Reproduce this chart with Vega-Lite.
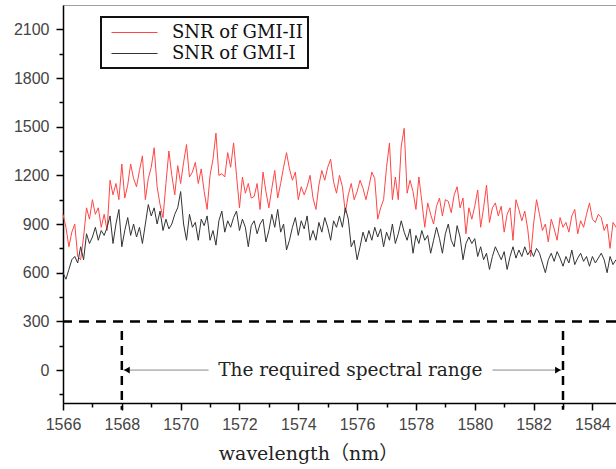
{
"$schema":"https://vega.github.io/schema/vega-lite/v6.json",
"autosize":{"type":"none"},
"padding":{"left":63,"top":5,"right":0,"bottom":66},
"width":570,"height":398,
"background":"white",
"config":{"view":{"stroke":"#a0a0a0","strokeWidth":1}},
"resolve":{"axis":{"x":"independent","y":"independent"}},
"layer":[
{"data":{"values":[
{"x":1566.0,"s":"II","y":960},{"x":1566.1,"s":"II","y":880},{"x":1566.2,"s":"II","y":760},{"x":1566.3,"s":"II","y":850},{"x":1566.4,"s":"II","y":900},{"x":1566.5,"s":"II","y":700},{"x":1566.6,"s":"II","y":680},{"x":1566.7,"s":"II","y":820},{"x":1566.8,"s":"II","y":1000},{"x":1566.9,"s":"II","y":930},
{"x":1567.0,"s":"II","y":1050},{"x":1567.1,"s":"II","y":960},{"x":1567.2,"s":"II","y":1000},{"x":1567.3,"s":"II","y":880},{"x":1567.4,"s":"II","y":960},{"x":1567.5,"s":"II","y":860},{"x":1567.6,"s":"II","y":1170},{"x":1567.7,"s":"II","y":1080},{"x":1567.8,"s":"II","y":1150},{"x":1567.9,"s":"II","y":1050},
{"x":1568.0,"s":"II","y":1270},{"x":1568.1,"s":"II","y":1060},{"x":1568.2,"s":"II","y":1140},{"x":1568.3,"s":"II","y":1270},{"x":1568.4,"s":"II","y":1180},{"x":1568.5,"s":"II","y":1130},{"x":1568.6,"s":"II","y":1230},{"x":1568.7,"s":"II","y":1320},{"x":1568.8,"s":"II","y":1050},{"x":1568.9,"s":"II","y":1180},
{"x":1569.0,"s":"II","y":1250},{"x":1569.1,"s":"II","y":1370},{"x":1569.2,"s":"II","y":1130},{"x":1569.3,"s":"II","y":1020},{"x":1569.4,"s":"II","y":940},{"x":1569.5,"s":"II","y":1150},{"x":1569.6,"s":"II","y":1350},{"x":1569.7,"s":"II","y":1200},{"x":1569.8,"s":"II","y":1080},{"x":1569.9,"s":"II","y":1260},
{"x":1570.0,"s":"II","y":1150},{"x":1570.1,"s":"II","y":1280},{"x":1570.2,"s":"II","y":1390},{"x":1570.3,"s":"II","y":1190},{"x":1570.4,"s":"II","y":1220},{"x":1570.5,"s":"II","y":1280},{"x":1570.6,"s":"II","y":1150},{"x":1570.7,"s":"II","y":1240},{"x":1570.8,"s":"II","y":1100},{"x":1570.9,"s":"II","y":990},
{"x":1571.0,"s":"II","y":1200},{"x":1571.1,"s":"II","y":1300},{"x":1571.2,"s":"II","y":1460},{"x":1571.3,"s":"II","y":1200},{"x":1571.4,"s":"II","y":1210},{"x":1571.5,"s":"II","y":1190},{"x":1571.6,"s":"II","y":1340},{"x":1571.7,"s":"II","y":1250},{"x":1571.8,"s":"II","y":1400},{"x":1571.9,"s":"II","y":1200},
{"x":1572.0,"s":"II","y":1000},{"x":1572.1,"s":"II","y":1190},{"x":1572.2,"s":"II","y":1090},{"x":1572.3,"s":"II","y":1150},{"x":1572.4,"s":"II","y":1060},{"x":1572.5,"s":"II","y":1070},{"x":1572.6,"s":"II","y":1150},{"x":1572.7,"s":"II","y":990},{"x":1572.8,"s":"II","y":1220},{"x":1572.9,"s":"II","y":1100},
{"x":1573.0,"s":"II","y":1000},{"x":1573.1,"s":"II","y":1120},{"x":1573.2,"s":"II","y":1230},{"x":1573.3,"s":"II","y":1060},{"x":1573.4,"s":"II","y":1150},{"x":1573.5,"s":"II","y":1250},{"x":1573.6,"s":"II","y":1340},{"x":1573.7,"s":"II","y":1240},{"x":1573.8,"s":"II","y":1170},{"x":1573.9,"s":"II","y":1220},
{"x":1574.0,"s":"II","y":1050},{"x":1574.1,"s":"II","y":1130},{"x":1574.2,"s":"II","y":1080},{"x":1574.3,"s":"II","y":1130},{"x":1574.4,"s":"II","y":1200},{"x":1574.5,"s":"II","y":1060},{"x":1574.6,"s":"II","y":990},{"x":1574.7,"s":"II","y":1140},{"x":1574.8,"s":"II","y":1230},{"x":1574.9,"s":"II","y":1170},
{"x":1575.0,"s":"II","y":1250},{"x":1575.1,"s":"II","y":1300},{"x":1575.2,"s":"II","y":1160},{"x":1575.3,"s":"II","y":1090},{"x":1575.4,"s":"II","y":1200},{"x":1575.5,"s":"II","y":1130},{"x":1575.6,"s":"II","y":970},{"x":1575.7,"s":"II","y":1080},{"x":1575.8,"s":"II","y":1150},{"x":1575.9,"s":"II","y":1050},
{"x":1576.0,"s":"II","y":1100},{"x":1576.1,"s":"II","y":1170},{"x":1576.2,"s":"II","y":1120},{"x":1576.3,"s":"II","y":1050},{"x":1576.4,"s":"II","y":1130},{"x":1576.5,"s":"II","y":1220},{"x":1576.6,"s":"II","y":1180},{"x":1576.7,"s":"II","y":930},{"x":1576.8,"s":"II","y":1000},{"x":1576.9,"s":"II","y":1050},
{"x":1577.0,"s":"II","y":1250},{"x":1577.1,"s":"II","y":1400},{"x":1577.2,"s":"II","y":1050},{"x":1577.3,"s":"II","y":1190},{"x":1577.4,"s":"II","y":1050},{"x":1577.5,"s":"II","y":1380},{"x":1577.6,"s":"II","y":1490},{"x":1577.7,"s":"II","y":1090},{"x":1577.8,"s":"II","y":1170},{"x":1577.9,"s":"II","y":1100},
{"x":1578.0,"s":"II","y":990},{"x":1578.1,"s":"II","y":1190},{"x":1578.2,"s":"II","y":1040},{"x":1578.3,"s":"II","y":880},{"x":1578.4,"s":"II","y":1030},{"x":1578.5,"s":"II","y":960},{"x":1578.6,"s":"II","y":900},{"x":1578.7,"s":"II","y":1010},{"x":1578.8,"s":"II","y":1060},{"x":1578.9,"s":"II","y":950},
{"x":1579.0,"s":"II","y":1050},{"x":1579.1,"s":"II","y":1040},{"x":1579.2,"s":"II","y":970},{"x":1579.3,"s":"II","y":1080},{"x":1579.4,"s":"II","y":1130},{"x":1579.5,"s":"II","y":1000},{"x":1579.6,"s":"II","y":1060},{"x":1579.7,"s":"II","y":840},{"x":1579.8,"s":"II","y":1000},{"x":1579.9,"s":"II","y":930},
{"x":1580.0,"s":"II","y":1010},{"x":1580.1,"s":"II","y":1110},{"x":1580.2,"s":"II","y":880},{"x":1580.3,"s":"II","y":1000},{"x":1580.4,"s":"II","y":1140},{"x":1580.5,"s":"II","y":910},{"x":1580.6,"s":"II","y":1000},{"x":1580.7,"s":"II","y":1030},{"x":1580.8,"s":"II","y":950},{"x":1580.9,"s":"II","y":1010},
{"x":1581.0,"s":"II","y":850},{"x":1581.1,"s":"II","y":960},{"x":1581.2,"s":"II","y":1000},{"x":1581.3,"s":"II","y":800},{"x":1581.4,"s":"II","y":1050},{"x":1581.5,"s":"II","y":990},{"x":1581.6,"s":"II","y":920},{"x":1581.7,"s":"II","y":980},{"x":1581.8,"s":"II","y":870},{"x":1581.9,"s":"II","y":700},
{"x":1582.0,"s":"II","y":900},{"x":1582.1,"s":"II","y":1050},{"x":1582.2,"s":"II","y":960},{"x":1582.3,"s":"II","y":860},{"x":1582.4,"s":"II","y":900},{"x":1582.5,"s":"II","y":790},{"x":1582.6,"s":"II","y":930},{"x":1582.7,"s":"II","y":870},{"x":1582.8,"s":"II","y":800},{"x":1582.9,"s":"II","y":940},
{"x":1583.0,"s":"II","y":880},{"x":1583.1,"s":"II","y":910},{"x":1583.2,"s":"II","y":850},{"x":1583.3,"s":"II","y":950},{"x":1583.4,"s":"II","y":990},{"x":1583.5,"s":"II","y":840},{"x":1583.6,"s":"II","y":920},{"x":1583.7,"s":"II","y":880},{"x":1583.8,"s":"II","y":960},{"x":1583.9,"s":"II","y":1030},
{"x":1584.0,"s":"II","y":930},{"x":1584.1,"s":"II","y":910},{"x":1584.2,"s":"II","y":960},{"x":1584.3,"s":"II","y":940},{"x":1584.4,"s":"II","y":860},{"x":1584.5,"s":"II","y":900},{"x":1584.6,"s":"II","y":750},{"x":1584.7,"s":"II","y":910},{"x":1584.8,"s":"II","y":880},
{"x":1566.0,"s":"I","y":600},{"x":1566.1,"s":"I","y":560},{"x":1566.2,"s":"I","y":620},{"x":1566.3,"s":"I","y":680},{"x":1566.4,"s":"I","y":700},{"x":1566.5,"s":"I","y":660},{"x":1566.6,"s":"I","y":760},{"x":1566.7,"s":"I","y":680},{"x":1566.8,"s":"I","y":840},{"x":1566.9,"s":"I","y":780},
{"x":1567.0,"s":"I","y":820},{"x":1567.1,"s":"I","y":880},{"x":1567.2,"s":"I","y":800},{"x":1567.3,"s":"I","y":860},{"x":1567.4,"s":"I","y":830},{"x":1567.5,"s":"I","y":880},{"x":1567.6,"s":"I","y":950},{"x":1567.7,"s":"I","y":780},{"x":1567.8,"s":"I","y":900},{"x":1567.9,"s":"I","y":990},
{"x":1568.0,"s":"I","y":760},{"x":1568.1,"s":"I","y":860},{"x":1568.2,"s":"I","y":940},{"x":1568.3,"s":"I","y":830},{"x":1568.4,"s":"I","y":900},{"x":1568.5,"s":"I","y":820},{"x":1568.6,"s":"I","y":880},{"x":1568.7,"s":"I","y":780},{"x":1568.8,"s":"I","y":900},{"x":1568.9,"s":"I","y":1020},
{"x":1569.0,"s":"I","y":950},{"x":1569.1,"s":"I","y":1000},{"x":1569.2,"s":"I","y":900},{"x":1569.3,"s":"I","y":980},{"x":1569.4,"s":"I","y":860},{"x":1569.5,"s":"I","y":930},{"x":1569.6,"s":"I","y":870},{"x":1569.7,"s":"I","y":900},{"x":1569.8,"s":"I","y":960},{"x":1569.9,"s":"I","y":1000},
{"x":1570.0,"s":"I","y":1100},{"x":1570.1,"s":"I","y":900},{"x":1570.2,"s":"I","y":800},{"x":1570.3,"s":"I","y":960},{"x":1570.4,"s":"I","y":880},{"x":1570.5,"s":"I","y":910},{"x":1570.6,"s":"I","y":800},{"x":1570.7,"s":"I","y":930},{"x":1570.8,"s":"I","y":890},{"x":1570.9,"s":"I","y":950},
{"x":1571.0,"s":"I","y":800},{"x":1571.1,"s":"I","y":860},{"x":1571.2,"s":"I","y":770},{"x":1571.3,"s":"I","y":920},{"x":1571.4,"s":"I","y":980},{"x":1571.5,"s":"I","y":850},{"x":1571.6,"s":"I","y":920},{"x":1571.7,"s":"I","y":880},{"x":1571.8,"s":"I","y":940},{"x":1571.9,"s":"I","y":980},
{"x":1572.0,"s":"I","y":860},{"x":1572.1,"s":"I","y":930},{"x":1572.2,"s":"I","y":880},{"x":1572.3,"s":"I","y":760},{"x":1572.4,"s":"I","y":890},{"x":1572.5,"s":"I","y":920},{"x":1572.6,"s":"I","y":840},{"x":1572.7,"s":"I","y":900},{"x":1572.8,"s":"I","y":930},{"x":1572.9,"s":"I","y":790},
{"x":1573.0,"s":"I","y":860},{"x":1573.1,"s":"I","y":960},{"x":1573.2,"s":"I","y":880},{"x":1573.3,"s":"I","y":990},{"x":1573.4,"s":"I","y":850},{"x":1573.5,"s":"I","y":900},{"x":1573.6,"s":"I","y":740},{"x":1573.7,"s":"I","y":800},{"x":1573.8,"s":"I","y":880},{"x":1573.9,"s":"I","y":940},
{"x":1574.0,"s":"I","y":830},{"x":1574.1,"s":"I","y":920},{"x":1574.2,"s":"I","y":870},{"x":1574.3,"s":"I","y":950},{"x":1574.4,"s":"I","y":800},{"x":1574.5,"s":"I","y":860},{"x":1574.6,"s":"I","y":800},{"x":1574.7,"s":"I","y":910},{"x":1574.8,"s":"I","y":850},{"x":1574.9,"s":"I","y":940},
{"x":1575.0,"s":"I","y":880},{"x":1575.1,"s":"I","y":800},{"x":1575.2,"s":"I","y":920},{"x":1575.3,"s":"I","y":880},{"x":1575.4,"s":"I","y":950},{"x":1575.5,"s":"I","y":880},{"x":1575.6,"s":"I","y":1000},{"x":1575.7,"s":"I","y":930},{"x":1575.8,"s":"I","y":760},{"x":1575.9,"s":"I","y":800},
{"x":1576.0,"s":"I","y":680},{"x":1576.1,"s":"I","y":760},{"x":1576.2,"s":"I","y":850},{"x":1576.3,"s":"I","y":790},{"x":1576.4,"s":"I","y":860},{"x":1576.5,"s":"I","y":800},{"x":1576.6,"s":"I","y":880},{"x":1576.7,"s":"I","y":820},{"x":1576.8,"s":"I","y":870},{"x":1576.9,"s":"I","y":760},
{"x":1577.0,"s":"I","y":850},{"x":1577.1,"s":"I","y":800},{"x":1577.2,"s":"I","y":900},{"x":1577.3,"s":"I","y":780},{"x":1577.4,"s":"I","y":840},{"x":1577.5,"s":"I","y":920},{"x":1577.6,"s":"I","y":850},{"x":1577.7,"s":"I","y":800},{"x":1577.8,"s":"I","y":870},{"x":1577.9,"s":"I","y":720},
{"x":1578.0,"s":"I","y":830},{"x":1578.1,"s":"I","y":780},{"x":1578.2,"s":"I","y":860},{"x":1578.3,"s":"I","y":800},{"x":1578.4,"s":"I","y":830},{"x":1578.5,"s":"I","y":720},{"x":1578.6,"s":"I","y":800},{"x":1578.7,"s":"I","y":880},{"x":1578.8,"s":"I","y":810},{"x":1578.9,"s":"I","y":720},
{"x":1579.0,"s":"I","y":840},{"x":1579.1,"s":"I","y":900},{"x":1579.2,"s":"I","y":800},{"x":1579.3,"s":"I","y":760},{"x":1579.4,"s":"I","y":890},{"x":1579.5,"s":"I","y":820},{"x":1579.6,"s":"I","y":680},{"x":1579.7,"s":"I","y":780},{"x":1579.8,"s":"I","y":820},{"x":1579.9,"s":"I","y":780},
{"x":1580.0,"s":"I","y":810},{"x":1580.1,"s":"I","y":700},{"x":1580.2,"s":"I","y":760},{"x":1580.3,"s":"I","y":680},{"x":1580.4,"s":"I","y":720},{"x":1580.5,"s":"I","y":620},{"x":1580.6,"s":"I","y":700},{"x":1580.7,"s":"I","y":760},{"x":1580.8,"s":"I","y":720},{"x":1580.9,"s":"I","y":680},
{"x":1581.0,"s":"I","y":730},{"x":1581.1,"s":"I","y":620},{"x":1581.2,"s":"I","y":700},{"x":1581.3,"s":"I","y":760},{"x":1581.4,"s":"I","y":690},{"x":1581.5,"s":"I","y":740},{"x":1581.6,"s":"I","y":700},{"x":1581.7,"s":"I","y":760},{"x":1581.8,"s":"I","y":710},{"x":1581.9,"s":"I","y":740},
{"x":1582.0,"s":"I","y":700},{"x":1582.1,"s":"I","y":750},{"x":1582.2,"s":"I","y":720},{"x":1582.3,"s":"I","y":660},{"x":1582.4,"s":"I","y":600},{"x":1582.5,"s":"I","y":680},{"x":1582.6,"s":"I","y":720},{"x":1582.7,"s":"I","y":670},{"x":1582.8,"s":"I","y":730},{"x":1582.9,"s":"I","y":690},
{"x":1583.0,"s":"I","y":640},{"x":1583.1,"s":"I","y":700},{"x":1583.2,"s":"I","y":660},{"x":1583.3,"s":"I","y":740},{"x":1583.4,"s":"I","y":650},{"x":1583.5,"s":"I","y":690},{"x":1583.6,"s":"I","y":720},{"x":1583.7,"s":"I","y":670},{"x":1583.8,"s":"I","y":700},{"x":1583.9,"s":"I","y":640},
{"x":1584.0,"s":"I","y":700},{"x":1584.1,"s":"I","y":660},{"x":1584.2,"s":"I","y":690},{"x":1584.3,"s":"I","y":720},{"x":1584.4,"s":"I","y":680},{"x":1584.5,"s":"I","y":600},{"x":1584.6,"s":"I","y":700},{"x":1584.7,"s":"I","y":650},{"x":1584.8,"s":"I","y":680}
]},
"mark":{"type":"line","strokeWidth":1,"interpolate":"linear"},
"encoding":{
"x":{"field":"x","type":"quantitative","scale":{"domain":[1566,1585.38],"nice":false,"zero":false},
"axis":{"orient":"bottom","values":[1566,1568,1570,1572,1574,1576,1578,1580,1582,1584],
"format":"d","labelOverlap":false,"labelFlush":false,"tickSize":7,
"grid":false,"domainColor":"#000","domainWidth":1.5,"tickColor":"#000","tickWidth":1.5,
"labelFont":"Liberation Sans","labelFontSize":16,"labelColor":"#444","labelPadding":6,
"title":"wavelength（nm）","titleFont":"DejaVu Serif, Noto Sans CJK SC","titleFontSize":19,"titleFontWeight":"normal","titleColor":"#222",
"titleX":245,"titleY":50,"titleAnchor":"middle","titleAlign":"center","titleBaseline":"middle"}},
"y":{"field":"y","type":"quantitative","scale":{"domain":[-203,2250],"nice":false,"zero":false},
"axis":{"orient":"left","values":[0,300,600,900,1200,1500,1800,2100],
"format":"d","labelOverlap":false,"labelFlush":false,"tickSize":7,
"grid":false,"domainColor":"#000","domainWidth":1.5,"tickColor":"#000","tickWidth":1.5,
"labelFont":"Liberation Sans","labelFontSize":16,"labelColor":"#444","labelPadding":7,"title":null}},
"color":{"field":"s","type":"nominal","scale":{"domain":["II","I"],"range":["#ff4545","#333333"]},
"legend":{"orient":"none","legendX":38,"legendY":12,"title":null,"labelExpr":"'SNR of GMI-' + datum.label",
"symbolType":"M-0.5,0H4.1","symbolSize":400,"symbolStrokeWidth":1,"labelFont":"DejaVu Serif","labelFontSize":18,"labelColor":"#111",
"labelOffset":45,"strokeColor":"#111","fillColor":"white","padding":5,"rowPadding":1,"labelLimit":300,
"encode":{"legend":{"update":{"strokeWidth":{"value":2}}}}}}
}},
{"data":{"values":[{}]},
"mark":{"type":"point","opacity":0},
"encoding":{
"x":{"datum":1567,"type":"quantitative","axis":{"orient":"bottom","values":[1567,1569,1571,1573,1575,1577,1579,1581,1583,1585],"labels":false,"domain":false,"grid":false,"tickSize":4,"tickColor":"#000","tickWidth":1.5,"title":null}},
"y":{"datum":150,"type":"quantitative","axis":{"orient":"left","values":[-150,150,450,750,1050,1350,1650,1950],"labels":false,"domain":false,"grid":false,"tickSize":4,"tickColor":"#000","tickWidth":1.5,"title":null}}}},
{"data":{"values":[{}]},
"mark":{"type":"rule","stroke":"#000","strokeWidth":2.5,"strokeDash":[10,7]},
"encoding":{"y":{"datum":300,"axis":null}}},
{"data":{"values":[{"x":1568},{"x":1583}]},
"mark":{"type":"rule","stroke":"#000","strokeWidth":2.5,"strokeDash":[9,6]},
"encoding":{"x":{"field":"x","type":"quantitative","axis":null},"y":{"datum":240,"axis":null},"y2":{"datum":-245}}},
{"data":{"values":[{"x":1568.05,"x2":1570.95},{"x":1580.6,"x2":1582.95}]},
"mark":{"type":"rule","stroke":"#888","strokeWidth":1},
"encoding":{"x":{"field":"x","type":"quantitative","axis":null},"x2":{"field":"x2"},"y":{"datum":0,"axis":null}}},
{"data":{"values":[{"x":1568.17,"sh":"triangle-left"},{"x":1582.83,"sh":"triangle-right"}]},
"mark":{"type":"point","filled":true,"color":"#000","opacity":1,"size":45},
"encoding":{"x":{"field":"x","type":"quantitative","axis":null},"y":{"datum":0,"axis":null},"shape":{"field":"sh","type":"nominal","scale":null,"legend":null}}},
{"data":{"values":[{"x":1575.77,"t":"The required spectral range"}]},
"mark":{"type":"text","font":"DejaVu Serif","fontSize":18.5,"color":"#222","align":"center","baseline":"middle"},
"encoding":{"x":{"field":"x","type":"quantitative","axis":null},"y":{"datum":0,"axis":null},"text":{"field":"t"}}}
]
}
